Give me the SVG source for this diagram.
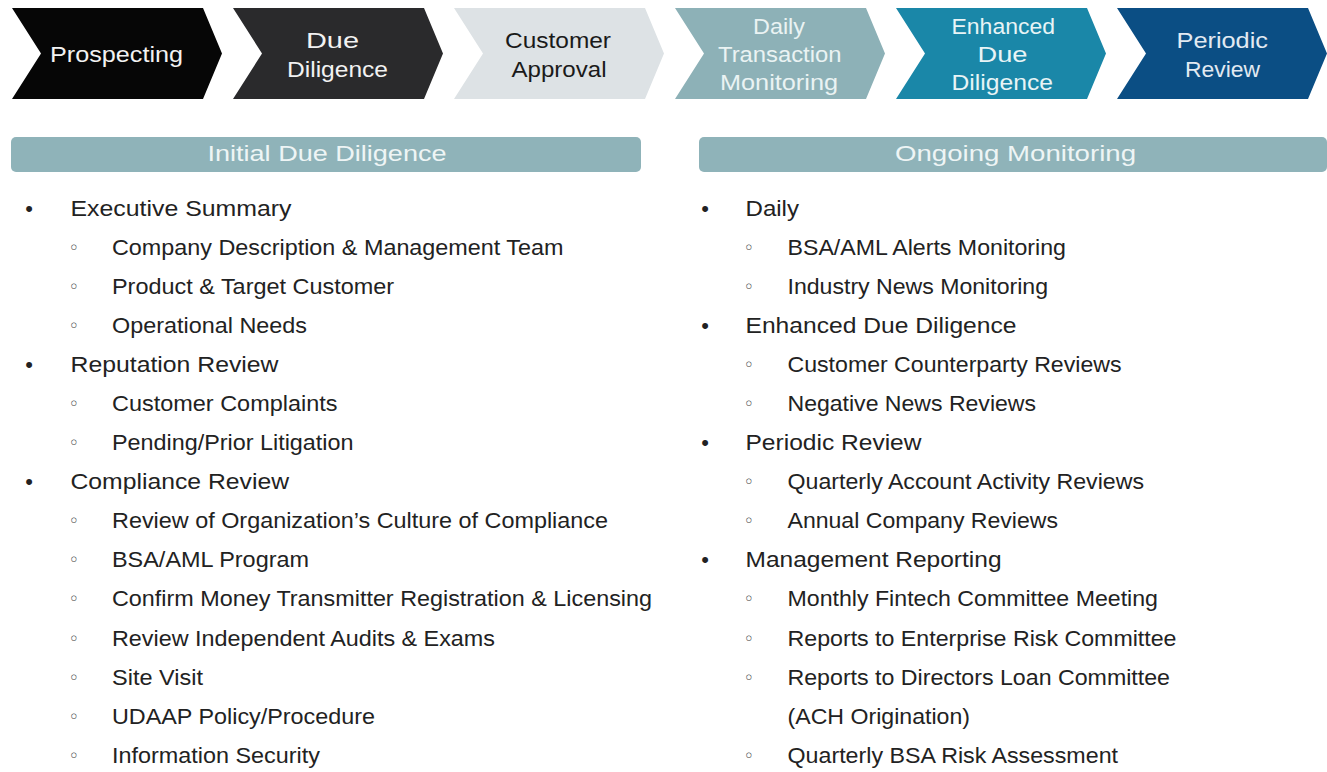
<svg xmlns="http://www.w3.org/2000/svg" width="1327" height="772" viewBox="0 0 1327 772">
<style>
.ct{font-family:"Liberation Sans",Arial,sans-serif;font-size:22px}
.hd{font-family:"Liberation Sans",Arial,sans-serif;font-size:21.5px;fill:#eef5f5}
.t{font-family:"Liberation Sans",Arial,sans-serif;font-size:22.5px;fill:#222222}
.b1{font-family:"Liberation Sans",Arial,sans-serif;font-size:22px;fill:#222222;text-anchor:middle}
.b2{font-family:"DejaVu Sans",sans-serif;font-size:18px;fill:#444444;text-anchor:middle}
</style>
<rect width="1327" height="772" fill="#ffffff"/>
<g id="chevrons">
<g id="prospecting">
<polygon points="12,8 203,8 222,53.5 203,99 12,99 41,53.5" fill="#060606"/>
<text class="ct" x="50" y="62" textLength="133" lengthAdjust="spacingAndGlyphs" fill="#f2f2f2">Prospecting</text>
</g>
<g id="due-diligence">
<polygon points="233,8 424,8 443,53.5 424,99 233,99 262,53.5" fill="#2a2a2c"/>
<text class="ct" x="306" y="48" textLength="53" lengthAdjust="spacingAndGlyphs" fill="#f2f2f2">Due</text>
<text class="ct" x="287" y="76.5" textLength="101" lengthAdjust="spacingAndGlyphs" fill="#f2f2f2">Diligence</text>
</g>
<g id="customer-approval">
<polygon points="454,8 645,8 664,53.5 645,99 454,99 483,53.5" fill="#dde2e5"/>
<text class="ct" x="505" y="48" textLength="106" lengthAdjust="spacingAndGlyphs" fill="#1a1a1a">Customer</text>
<text class="ct" x="511.5" y="76.5" textLength="95" lengthAdjust="spacingAndGlyphs" fill="#1a1a1a">Approval</text>
</g>
<g id="daily-transaction-monitoring">
<polygon points="675,8 866,8 885,53.5 866,99 675,99 704,53.5" fill="#8db1b7"/>
<text class="ct" x="753" y="33.5" textLength="52" lengthAdjust="spacingAndGlyphs" fill="#eaf3f3">Daily</text>
<text class="ct" x="718" y="62" textLength="123.5" lengthAdjust="spacingAndGlyphs" fill="#eaf3f3">Transaction</text>
<text class="ct" x="720" y="90" textLength="118" lengthAdjust="spacingAndGlyphs" fill="#eaf3f3">Monitoring</text>
</g>
<g id="enhanced-due-diligence">
<polygon points="896,8 1087,8 1106,53.5 1087,99 896,99 925,53.5" fill="#1a87a8"/>
<text class="ct" x="951.5" y="33.5" textLength="103.5" lengthAdjust="spacingAndGlyphs" fill="#e8f4f6">Enhanced</text>
<text class="ct" x="977.5" y="62" textLength="50" lengthAdjust="spacingAndGlyphs" fill="#e8f4f6">Due</text>
<text class="ct" x="951.5" y="90" textLength="101.5" lengthAdjust="spacingAndGlyphs" fill="#e8f4f6">Diligence</text>
</g>
<g id="periodic-review">
<polygon points="1117,8 1308,8 1327,53.5 1308,99 1117,99 1146,53.5" fill="#0b4e84"/>
<text class="ct" x="1176.5" y="48" textLength="91.5" lengthAdjust="spacingAndGlyphs" fill="#e2eaf2">Periodic</text>
<text class="ct" x="1185" y="76.5" textLength="75" lengthAdjust="spacingAndGlyphs" fill="#e2eaf2">Review</text>
</g>
</g>
<g id="connectors"></g>
<g id="initial-due-diligence">
<rect x="11" y="137" width="630" height="35" rx="5" fill="#8fb3b9"/>
<text class="hd" x="207.5" y="161" textLength="239" lengthAdjust="spacingAndGlyphs">Initial Due Diligence</text>
<text class="b1" x="29" y="216">•</text>
<text class="t" x="70.5" y="216" textLength="221" lengthAdjust="spacingAndGlyphs">Executive Summary</text>
<text class="b2" x="74" y="254">◦</text>
<text class="t" x="112" y="255" textLength="451.5" lengthAdjust="spacingAndGlyphs">Company Description &amp; Management Team</text>
<text class="b2" x="74" y="293">◦</text>
<text class="t" x="112" y="294" textLength="282" lengthAdjust="spacingAndGlyphs">Product &amp; Target Customer</text>
<text class="b2" x="74" y="332">◦</text>
<text class="t" x="112" y="333" textLength="195" lengthAdjust="spacingAndGlyphs">Operational Needs</text>
<text class="b1" x="29" y="372">•</text>
<text class="t" x="70.5" y="372" textLength="208" lengthAdjust="spacingAndGlyphs">Reputation Review</text>
<text class="b2" x="74" y="410">◦</text>
<text class="t" x="112" y="411" textLength="225.5" lengthAdjust="spacingAndGlyphs">Customer Complaints</text>
<text class="b2" x="74" y="449">◦</text>
<text class="t" x="112" y="450" textLength="241.5" lengthAdjust="spacingAndGlyphs">Pending/Prior Litigation</text>
<text class="b1" x="29" y="489">•</text>
<text class="t" x="70.5" y="489" textLength="218.5" lengthAdjust="spacingAndGlyphs">Compliance Review</text>
<text class="b2" x="74" y="527">◦</text>
<text class="t" x="112" y="528" textLength="496" lengthAdjust="spacingAndGlyphs">Review of Organization’s Culture of Compliance</text>
<text class="b2" x="74" y="566">◦</text>
<text class="t" x="112" y="567" textLength="197" lengthAdjust="spacingAndGlyphs">BSA/AML Program</text>
<text class="b2" x="74" y="605">◦</text>
<text class="t" x="112" y="606" textLength="540" lengthAdjust="spacingAndGlyphs">Confirm Money Transmitter Registration &amp; Licensing</text>
<text class="b2" x="74" y="644.5">◦</text>
<text class="t" x="112" y="645.5" textLength="383" lengthAdjust="spacingAndGlyphs">Review Independent Audits &amp; Exams</text>
<text class="b2" x="74" y="683.5">◦</text>
<text class="t" x="112" y="684.5" textLength="91" lengthAdjust="spacingAndGlyphs">Site Visit</text>
<text class="b2" x="74" y="722.5">◦</text>
<text class="t" x="112" y="723.5" textLength="263" lengthAdjust="spacingAndGlyphs">UDAAP Policy/Procedure</text>
<text class="b2" x="74" y="761.5">◦</text>
<text class="t" x="112" y="762.5" textLength="208" lengthAdjust="spacingAndGlyphs">Information Security</text>
</g>
<g id="ongoing-monitoring">
<rect x="699" y="137" width="628" height="35" rx="5" fill="#8fb3b9"/>
<text class="hd" x="895" y="161" textLength="241" lengthAdjust="spacingAndGlyphs">Ongoing Monitoring</text>
<text class="b1" x="705" y="216">•</text>
<text class="t" x="745.5" y="216" textLength="53.5" lengthAdjust="spacingAndGlyphs">Daily</text>
<text class="b2" x="749" y="254">◦</text>
<text class="t" x="787.5" y="255" textLength="278.5" lengthAdjust="spacingAndGlyphs">BSA/AML Alerts Monitoring</text>
<text class="b2" x="749" y="293">◦</text>
<text class="t" x="787.5" y="294" textLength="260.5" lengthAdjust="spacingAndGlyphs">Industry News Monitoring</text>
<text class="b1" x="705" y="333">•</text>
<text class="t" x="745.5" y="333" textLength="271" lengthAdjust="spacingAndGlyphs">Enhanced Due Diligence</text>
<text class="b2" x="749" y="371">◦</text>
<text class="t" x="787.5" y="372" textLength="334" lengthAdjust="spacingAndGlyphs">Customer Counterparty Reviews</text>
<text class="b2" x="749" y="410">◦</text>
<text class="t" x="787.5" y="411" textLength="248.5" lengthAdjust="spacingAndGlyphs">Negative News Reviews</text>
<text class="b1" x="705" y="450">•</text>
<text class="t" x="745.5" y="450" textLength="176" lengthAdjust="spacingAndGlyphs">Periodic Review</text>
<text class="b2" x="749" y="488">◦</text>
<text class="t" x="787.5" y="489" textLength="356.5" lengthAdjust="spacingAndGlyphs">Quarterly Account Activity Reviews</text>
<text class="b2" x="749" y="527">◦</text>
<text class="t" x="787.5" y="528" textLength="270.5" lengthAdjust="spacingAndGlyphs">Annual Company Reviews</text>
<text class="b1" x="705" y="567">•</text>
<text class="t" x="745.5" y="567" textLength="256" lengthAdjust="spacingAndGlyphs">Management Reporting</text>
<text class="b2" x="749" y="605">◦</text>
<text class="t" x="787.5" y="606" textLength="370.5" lengthAdjust="spacingAndGlyphs">Monthly Fintech Committee Meeting</text>
<text class="b2" x="749" y="644.5">◦</text>
<text class="t" x="787.5" y="645.5" textLength="389" lengthAdjust="spacingAndGlyphs">Reports to Enterprise Risk Committee</text>
<text class="b2" x="749" y="683.5">◦</text>
<text class="t" x="787.5" y="684.5" textLength="382.5" lengthAdjust="spacingAndGlyphs">Reports to Directors Loan Committee</text>
<text class="t" x="787.5" y="723.5" textLength="182.5" lengthAdjust="spacingAndGlyphs">(ACH Origination)</text>
<text class="b2" x="749" y="761.5">◦</text>
<text class="t" x="787.5" y="762.5" textLength="330.5" lengthAdjust="spacingAndGlyphs">Quarterly BSA Risk Assessment</text>
</g>
</svg>
